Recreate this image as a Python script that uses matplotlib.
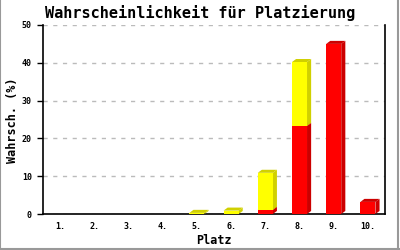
import matplotlib
matplotlib.use("Agg")
import matplotlib.pyplot as plt
from matplotlib.patches import Polygon, Rectangle

categories = ["1.", "2.", "3.", "4.", "5.", "6.", "7.", "8.", "9.", "10."]
red_vals = [0, 0, 0, 0, 0, 0, 1.1, 23.3, 45.0, 3.2]
yellow_vals = [0, 0, 0, 0, 0.3, 0.9, 9.8, 16.9, 0, 0]
yticks = [0, 10, 20, 30, 40, 50]

RED, RED_D = "#FF0000", "#CC0000"
YEL, YEL_D = "#FFFF00", "#D0D000"
FONT = "DejaVu Sans Mono"

fig = plt.figure(figsize=(4, 2.5), dpi=100)
ax = fig.add_axes([0.1075, 0.144, 0.855, 0.756])
ax.set_xlim(0.5, 10.5)
ax.set_ylim(0, 50)

W = 0.44
DX, DY = 0.12, 0.8

def bar3d(xc, y0, y1, face, dark):
    if y1 - y0 <= 0:
        return
    x0, x1 = xc - W / 2, xc + W / 2
    ax.add_patch(Polygon([(x1, y0), (x1 + DX, y0 + DY), (x1 + DX, y1 + DY), (x1, y1)],
                         closed=True, facecolor=dark, edgecolor="none", zorder=3))
    ax.add_patch(Polygon([(x0, y1), (x0 + DX, y1 + DY), (x1 + DX, y1 + DY), (x1, y1)],
                         closed=True, facecolor=dark, edgecolor="none", zorder=3))
    ax.add_patch(Rectangle((x0, y0), W, y1 - y0, facecolor=face, edgecolor="none", zorder=4))

for i, (r, y) in enumerate(zip(red_vals, yellow_vals)):
    xc = i + 1
    bar3d(xc, 0, r, RED, RED_D)
    bar3d(xc, r, r + y, YEL, YEL_D)

ax.set_xticks(range(1, len(categories) + 1))
ax.set_xticklabels(categories, family=FONT, fontsize=6, fontweight="bold")
ax.set_yticks(yticks)
ax.set_yticklabels([str(t) for t in yticks], family=FONT, fontsize=6, fontweight="bold")
ax.tick_params(axis="x", length=0, pad=6)
ax.tick_params(axis="y", length=4, width=1, direction="out", pad=4)
ax.yaxis.grid(True, color="#BBBBBB", linestyle=(0, (3, 4)), linewidth=1)
ax.set_axisbelow(True)
ax.spines["top"].set_visible(False)
for s in ["left", "right", "bottom"]:
    ax.spines[s].set_linewidth(1.2)
    ax.spines[s].set_color("black")

fig.text(214 / 400, 1 - 240 / 250, "Platz", ha="center", va="center",
         family=FONT, fontsize=8.5, fontweight="bold")
fig.text(13 / 400, 1 - 120 / 250, "Wahrsch. (%)", ha="center", va="center", rotation=90,
         family=FONT, fontsize=8.5, fontweight="bold")
fig.text(0.5, 0.948, "Wahrscheinlichkeit für Platzierung", ha="center", va="center",
         family=FONT, fontsize=11, fontweight="bold")

# gray frame around figure (left, right, bottom)
for xs, ys in [([0.001, 0.001], [0, 1]), ([0.994, 0.994], [0, 1]), ([0, 1], [0.006, 0.006])]:
    fig.add_artist(plt.Line2D(xs, ys, transform=fig.transFigure, color="#999999", linewidth=1.5))

fig.savefig("out.png", dpi=100, facecolor="white")
